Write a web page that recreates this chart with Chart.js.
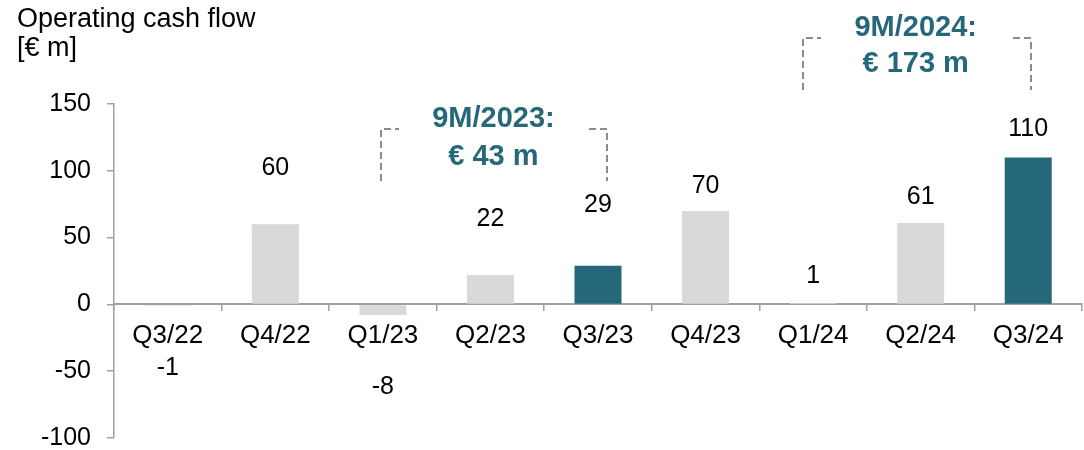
<!DOCTYPE html>
<html>
<head>
<meta charset="utf-8">
<script src="https://cdn.jsdelivr.net/npm/chart.js@4"></script>
<style>
  html, body { margin: 0; padding: 0; background: #fff; }
  #wrap { width: 1084px; height: 450px; }
</style>
</head>
<body>
<div id="wrap"><canvas id="ocf"></canvas></div>
<script>
const quarters = ['Q3/22', 'Q4/22', 'Q1/23', 'Q2/23', 'Q3/23', 'Q4/23', 'Q1/24', 'Q2/24', 'Q3/24'];
const cashFlow = [-1, 60, -8, 22, 29, 70, 1, 61, 110];
const highlighted = ['Q3/23', 'Q3/24'];
const yTicks = [-100, -50, 0, 50, 100, 150];

const TEAL = '#246879';
const GREY = '#d9d9d9';
const AXIS = '#a0a0a0';
const FONT = '"Liberation Sans", Arial, sans-serif';

// distance from bar end to label centre (px)
const labelGap = [62, 56, 72, 56, 61, 25, 27, 26, 28];

const valueLabels = {
  id: 'valueLabels',
  afterDatasetsDraw(chart) {
    const ctx = chart.ctx;
    const meta = chart.getDatasetMeta(0);
    ctx.save();
    ctx.font = '25px ' + FONT;
    ctx.fillStyle = '#000';
    ctx.textAlign = 'center';
    ctx.textBaseline = 'middle';
    meta.data.forEach((bar, i) => {
      const v = cashFlow[i];
      const y = v < 0 ? bar.y + labelGap[i] : bar.y - labelGap[i];
      ctx.fillText(String(v), bar.x, y);
    });
    ctx.restore();
  }
};

function bracket(ctx, x1, x2, top, bottom, arm) {
  x1 = Math.round(x1); x2 = Math.round(x2);
  ctx.beginPath();
  ctx.moveTo(x1, bottom);
  ctx.lineTo(x1, top);
  ctx.lineTo(x1 + arm, top);
  ctx.moveTo(x2 - arm, top);
  ctx.lineTo(x2, top);
  ctx.lineTo(x2, bottom);
  ctx.stroke();
}

const annotations = {
  id: 'annotations',
  afterDraw(chart) {
    const ctx = chart.ctx;
    const x = chart.scales.x;
    ctx.save();
    // title
    ctx.font = '27px ' + FONT;
    ctx.fillStyle = '#000';
    ctx.textAlign = 'left';
    ctx.textBaseline = 'middle';
    ctx.fillText('Operating cash flow', 17, 20);
    ctx.fillText('[€ m]', 17, 49);

    // 9M brackets
    ctx.strokeStyle = '#8c8c8c';
    ctx.lineWidth = 2;
    ctx.setLineDash([7, 4]);
    bracket(ctx, x.getPixelForValue(2) - 2, x.getPixelForValue(4) + 9, 129, 181, 18);
    bracket(ctx, x.getPixelForValue(6) - 10, x.getPixelForValue(8) + 3, 38, 90, 18);
    ctx.setLineDash([]);

    ctx.font = 'bold 29px ' + FONT;
    ctx.fillStyle = TEAL;
    ctx.textAlign = 'center';
    const c23 = x.getPixelForValue(3) + 3;
    ctx.fillText('9M/2023:', c23, 119);
    ctx.fillText('€ 43 m', c23, 157);
    const c24 = x.getPixelForValue(7) - 5;
    ctx.fillText('9M/2024:', c24, 28);
    ctx.fillText('€ 173 m', c24, 64);
    ctx.restore();
  }
};

new Chart(document.getElementById('ocf'), {
  type: 'bar',
  data: {
    labels: quarters,
    datasets: [{
      data: cashFlow,
      backgroundColor: quarters.map(q => highlighted.includes(q) ? TEAL : GREY),
      borderWidth: 0,
      barPercentage: 0.437,
      categoryPercentage: 1
    }]
  },
  options: {
    responsive: true,
    maintainAspectRatio: false,
    animation: false,
    layout: { padding: { left: 0, right: 2, top: 104, bottom: 12 } },
    plugins: { legend: { display: false }, tooltip: { enabled: false } },
    scales: {
      x: {
        position: { y: 0 },
        afterFit: s => {
          s.height = 0;
          s.paddingTop = 0; s.paddingBottom = 0; s.paddingLeft = 0; s.paddingRight = 0;
        },
        grid: { drawOnChartArea: false, tickLength: 6, color: AXIS, lineWidth: 1.5 },
        border: { color: AXIS, width: 2 },
        ticks: { color: '#000', font: { family: FONT, size: 26 }, padding: 10, maxRotation: 0 }
      },
      y: {
        min: -100,
        max: 150,
        afterBuildTicks: s => { s.ticks = yTicks.map(v => ({ value: v })); },
        afterFit: s => {
          s.width = 114;
          s.paddingTop = 0; s.paddingBottom = 0;
        },
        grid: { drawOnChartArea: false, tickLength: 7, color: AXIS, lineWidth: 1.5 },
        border: { color: AXIS, width: 1.5 },
        ticks: { color: '#000', font: { family: FONT, size: 25 }, padding: 16 }
      }
    }
  },
  plugins: [valueLabels, annotations]
});
</script>
</body>
</html>
